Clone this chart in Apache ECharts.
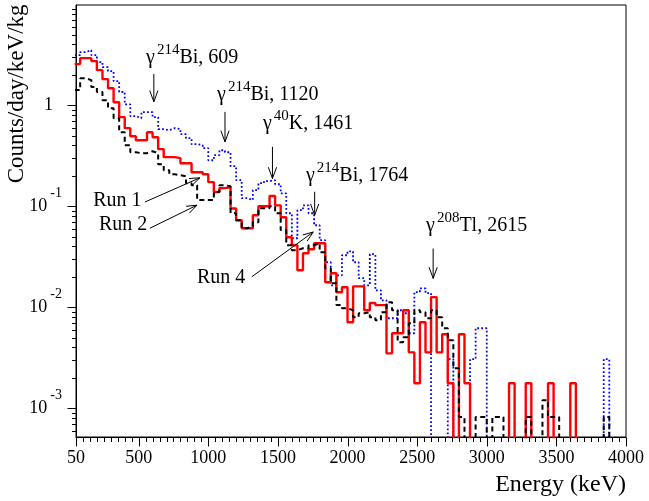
<!DOCTYPE html>
<html>
<head>
<meta charset="utf-8">
<script src="https://cdn.jsdelivr.net/npm/echarts@6/dist/echarts.min.js"></script>
<style>
html, body { margin: 0; padding: 0; background: #fff; }
#chart { width: 649px; height: 501px; }
</style>
</head>
<body>
<div id="chart"></div>
<script>
/* histogram bins: 40 keV wide, first one is 40-80 keV */
const binStart = 40;
const binWidth = 40;

/* Counts/day/keV/kg per bin */
const run1 = [
    2.55, 2.92, 2.92, 2.73, 2.22, 1.81, 1.47, 1.07, 0.761, 0.592,
    0.493, 0.450, 0.450, 0.540, 0.482, 0.367, 0.306, 0.306, 0.299, 0.266,
    0.266, 0.217, 0.217, 0.207, 0.173, 0.138, 0.151, 0.154, 0.095, 0.0727,
    0.0606, 0.0606, 0.0814, 0.100, 0.100, 0.126, 0.102, 0.0778, 0.0493, 0.0411,
    0.0232, 0.0342, 0.0375, 0.0430, 0.0430, 0.0177, 0.0217, 0.0141, 0.0158, 0.0071,
    0.0161, 0.0161, 0.00934, 0.0110, 0.0105, 0.0105, 0.0035, 0.00553, 0.00553, 0.00934,
    0.00358, 0.00177, 0.0071, 0.00358, 0.0126, 0.00358, 0.0054, 0.00177, 0, 0.0054,
    0.00177, 0, 0, 0, 0, 0, 0, 0, 0.00177, 0,
    0, 0.00177, 0, 0, 0, 0.00177, 0, 0, 0, 0.00177,
    0, 0, 0, 0, 0, 0, 0, 0, 0
];
const run2 = [
    1.41, 1.85, 1.77, 1.51, 1.35, 1.12, 0.934, 0.744, 0.540, 0.402,
    0.342, 0.335, 0.335, 0.350, 0.335, 0.260, 0.227, 0.207, 0.203, 0.198,
    0.169, 0.161, 0.115, 0.115, 0.115, 0.138, 0.161, 0.158, 0.0852, 0.0727,
    0.0606, 0.0634, 0.0694, 0.0955, 0.0955, 0.100, 0.0852, 0.058, 0.0411, 0.0367,
    0.0384, 0.0384, 0.0411, 0.0430, 0.0350, 0.0243, 0.0173, 0.0105, 0.00977, 0.00934,
    0.00796, 0.00872, 0.00892, 0.00796, 0.00743, 0.00892, 0.0112, 0.00934, 0.0045, 0.00505,
    0.00694, 0.00934, 0.00892, 0.00778, 0.00934, 0.00796, 0.0062, 0.00471, 0.00249, 0.00082,
    0, 0, 0.00082, 0.00082, 0, 0.00082, 0.00082, 0, 0, 0,
    0, 0.00082, 0, 0, 0.0012, 0.00082, 0.00082, 0, 0, 0,
    0, 0, 0, 0, 0, 0.00082, 0, 0, 0
];
const run4 = [
    3.13, 3.35, 3.50, 3.13, 2.67, 2.38, 2.17, 1.73, 1.35, 1.02,
    0.778, 0.744, 0.852, 0.852, 0.761, 0.579, 0.566, 0.592, 0.579, 0.516,
    0.471, 0.411, 0.402, 0.375, 0.285, 0.320, 0.358, 0.342, 0.249, 0.181,
    0.120, 0.115, 0.144, 0.169, 0.177, 0.181, 0.165, 0.134, 0.0852, 0.0482,
    0.0913, 0.102, 0.0852, 0.0648, 0.0461, 0.0279, 0.0165, 0.0207, 0.0327, 0.0358,
    0.0279, 0.0194, 0.0165, 0.0335, 0.0147, 0.0117, 0.00778, 0.00778, 0.00934, 0.00872,
    0.00553, 0.0141, 0.0154, 0.0138, 0, 0, 0, 0.00306, 0, 0,
    0, 0.00306, 0.0062, 0.0062, 0, 0, 0, 0, 0, 0,
    0, 0, 0, 0, 0, 0, 0, 0, 0, 0,
    0, 0, 0, 0, 0, 0.00306, 0, 0, 0
];

/* tick labels */
const xLabels = [50, 500, 1000, 1500, 2000, 2500, 3000, 3500, 4000];
const yLabels = [0.001, 0.01, 0.1, 1];

/* gamma lines: label anchor (energy, value), arrow top and tip values */
const peaks = [
    {mass: '214', el: 'Bi', e: 609, labelE: 553, labelV: 2.92, top: 2.03, tip: 1.08},
    {mass: '214', el: 'Bi', e: 1120, labelE: 1063, labelV: 1.256, top: 0.858, tip: 0.433},
    {mass: '40', el: 'K', e: 1461, labelE: 1393, labelV: 0.649, top: 0.387, tip: 0.188},
    {mass: '214', el: 'Bi', e: 1764, labelE: 1702, labelV: 0.198, top: 0.139, tip: 0.0815},
    {mass: '208', el: 'Tl', e: 2615, labelE: 2564, labelV: 0.0636, top: 0.0381, tip: 0.0193}
];

/* run labels: text anchor, arrow start and tip */
const runNotes = [
    {text: 'Run 1', at: [174, 0.1121], from: [545, 0.110], to: [940, 0.191]},
    {text: 'Run 2', at: [215, 0.0649], from: [581, 0.0606], to: [919, 0.1024]},
    {text: 'Run 4', at: [919, 0.0198], from: [1312, 0.0200], to: [1754, 0.0556]}
];

const FONT = "'Liberation Serif', 'Times New Roman', serif";
const FLOOR = 1e-6; // empty bins fall below the frame
const X_MIN = 50, X_MAX = 4000, Y_MIN = 5.2e-4, Y_MAX = 9.8;

let myChart = echarts.init(document.getElementById('chart'));

/*
* bins -> step line points
* */
function histPoints(vals) {
    let pts = vals.map((v, i) => [binStart + i * binWidth, v > 0 ? v : FLOOR]);
    pts.push([binStart + vals.length * binWidth, pts[pts.length - 1][1]]);
    return pts;
}

/* tick positions */
let xMinor = [];
for (let v = 100; v < 4000; v += 50) {
    if (v % 500 !== 0) xMinor.push(v);
}
let yMinor = [];
for (let p = -4; p <= 0; p++) {
    for (let m = 2; m <= 9; m++) {
        let v = +(m * Math.pow(10, p)).toPrecision(3);
        if (v > Y_MIN && v < Y_MAX) yMinor.push(v);
    }
}

let option = {
    animation: false,
    grid: {
        left: 76, right: 23, top: 5, bottom: 64,
        show: true, borderColor: '#000', borderWidth: 1
    },
    xAxis: {
        type: 'value', min: X_MIN, max: X_MAX,
        name: 'Energy (keV)', nameLocation: 'end', nameGap: 0,
        nameTextStyle: {
            fontFamily: FONT, fontSize: 24, color: '#000',
            align: 'right', verticalAlign: 'top', padding: [36, 0, 0, 0]
        },
        axisLine: {lineStyle: {color: '#000', width: 1}},
        axisTick: {show: false},
        axisLabel: {
            customValues: xLabels, margin: 12,
            formatter: (v) => String(v),
            fontFamily: FONT, fontSize: 18, color: '#000'
        },
        splitLine: {show: false}
    },
    yAxis: {
        type: 'log', min: Y_MIN, max: Y_MAX,
        name: 'Counts/day/keV/kg', nameLocation: 'end', nameGap: 0, nameRotate: 90,
        nameTextStyle: {
            fontFamily: FONT, fontSize: 23, color: '#000',
            align: 'right', verticalAlign: 'bottom', padding: [0, 0, 48, 0]
        },
        axisLine: {lineStyle: {color: '#000', width: 1}},
        axisTick: {show: false},
        axisLabel: {
            customValues: yLabels, margin: 14,
            formatter: (v) => v >= 1 ? '{one|1}' : '{b|10}{e|' + Math.round(Math.log10(v)) + '}',
            rich: {
                one: {fontFamily: FONT, fontSize: 18, lineHeight: 40, color: '#000', padding: [0, 9, 0, 0]},
                b: {fontFamily: FONT, fontSize: 18, lineHeight: 40, color: '#000'},
                e: {fontFamily: FONT, fontSize: 14, lineHeight: 14, color: '#000', verticalAlign: 'top', padding: [0, 0, 0, 3]}
            }
        },
        splitLine: {show: false}
    },
    series: [
        {
            name: 'Run 4', type: 'line', step: 'end', symbol: 'none', z: 2,
            data: histPoints(run4),
            lineStyle: {color: '#0000ff', width: 1.8, type: [1.8, 2.2]}
        },
        {
            name: 'Run 1', type: 'line', step: 'end', symbol: 'none', z: 3,
            data: histPoints(run1),
            lineStyle: {color: '#ff0000', width: 2.4}
        },
        {
            name: 'Run 2', type: 'line', step: 'end', symbol: 'none', z: 4,
            data: histPoints(run2),
            lineStyle: {color: '#000000', width: 2, type: [5, 3.5]}
        }
    ]
};

myChart.setOption(option);

/*
* ticks, arrows and labels placed through the chart's own scales
* */
let toPx = (e, v) => myChart.convertToPixel({xAxisIndex: 0, yAxisIndex: 0}, [e, v]);

function tick(p, dir, len) {
    let x = Math.round(p[0]) + 0.5, y = Math.round(p[1]) + 0.5;
    let shape = dir === 'x' ? {x1: x, y1: y, x2: x, y2: y + len} : {x1: x, y1: y, x2: x - len, y2: y};
    return {type: 'line', shape: shape, style: {stroke: '#000', lineWidth: 1}, z: 10, silent: true};
}

function arrow(p0, p1, head, half) {
    let dx = p1[0] - p0[0], dy = p1[1] - p0[1];
    let len = Math.hypot(dx, dy);
    let ux = dx / len, uy = dy / len;
    let c = Math.cos(half), s = Math.sin(half);
    let a = [p1[0] - head * (ux * c - uy * s), p1[1] - head * (uy * c + ux * s)];
    let b = [p1[0] - head * (ux * c + uy * s), p1[1] - head * (uy * c - ux * s)];
    return [
        {type: 'line', shape: {x1: p0[0], y1: p0[1], x2: p1[0], y2: p1[1]}, style: {stroke: '#000', lineWidth: 1}, z: 10},
        {type: 'polyline', shape: {points: [a, p1, b]}, style: {stroke: '#000', lineWidth: 1, fill: null}, z: 10}
    ];
}

let graphics = [];
for (let v of xLabels) graphics.push(tick(toPx(v, Y_MIN), 'x', 9));
for (let v of xMinor) graphics.push(tick(toPx(v, Y_MIN), 'x', 4.5));
for (let v of yLabels) graphics.push(tick(toPx(X_MIN, v), 'y', 9));
for (let v of yMinor) graphics.push(tick(toPx(X_MIN, v), 'y', 4.5));

for (let p of peaks) {
    let lp = toPx(p.labelE, p.labelV);
    graphics.push({
        type: 'text', x: lp[0], y: lp[1], z: 10,
        style: {
            text: '{g|γ}{s|' + p.mass + '}{t|' + p.el + ', ' + p.e + '}',
            align: 'left', verticalAlign: 'middle',
            rich: {
                g: {fontFamily: FONT, fontSize: 20, lineHeight: 31, fill: '#000'},
                s: {fontFamily: FONT, fontSize: 15, lineHeight: 15, fill: '#000', verticalAlign: 'top', padding: [0, 0, 0, 2]},
                t: {fontFamily: FONT, fontSize: 20, lineHeight: 31, fill: '#000'}
            }
        }
    });
    graphics.push(...arrow(toPx(p.e, p.top), toPx(p.e, p.tip), 12, 0.35));
}
for (let r of runNotes) {
    let lp = toPx(r.at[0], r.at[1]);
    graphics.push({
        type: 'text', x: lp[0], y: lp[1], z: 10,
        style: {text: r.text, fontFamily: FONT, fontSize: 20, fill: '#000', align: 'left', verticalAlign: 'middle'}
    });
    graphics.push(...arrow(toPx(r.from[0], r.from[1]), toPx(r.to[0], r.to[1]), 11, 0.35));
}

myChart.setOption({graphic: graphics});
</script>
</body>
</html>
